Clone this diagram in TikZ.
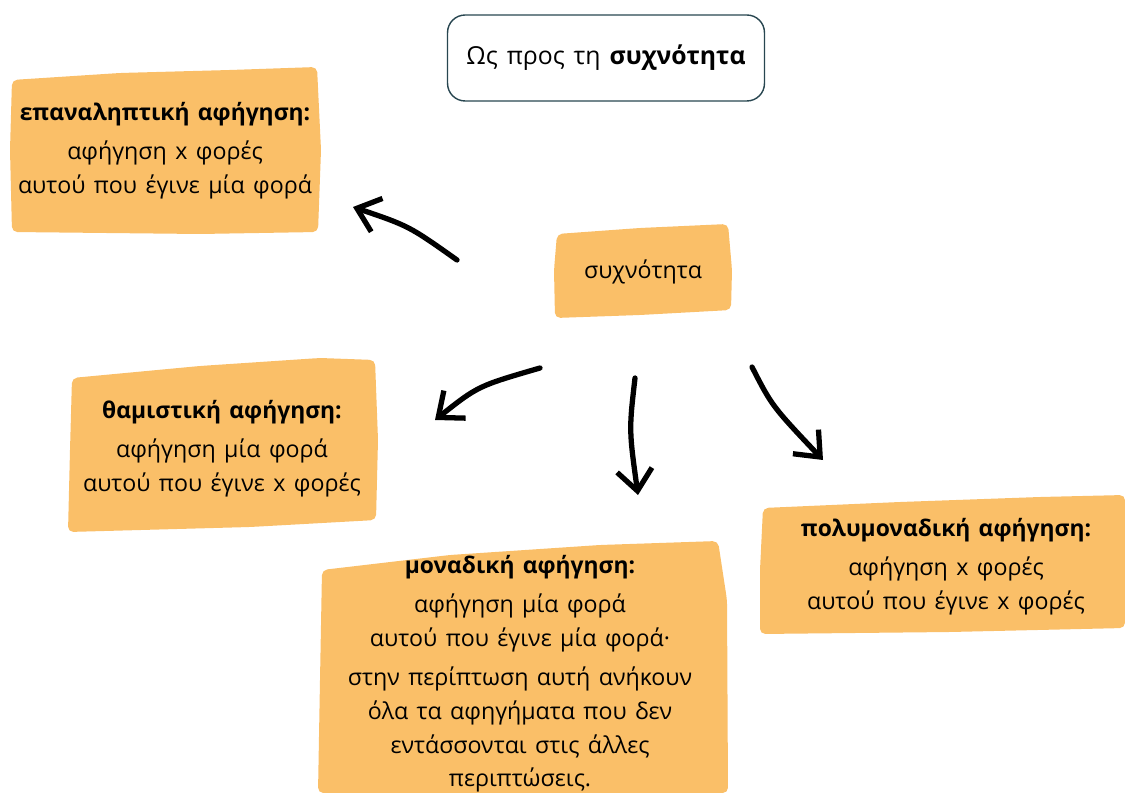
\documentclass[tikz,border=0pt]{standalone}
\usepackage{fontspec}
\setmainfont{Open Sans}[WordSpace=1.4]
\usetikzlibrary{arrows.meta}
\definecolor{paper}{RGB}{250,191,104}
\definecolor{rim}{RGB}{40,70,80}
\newcommand{\hd}[1]{{\fontsize{13}{19}\selectfont\bfseries #1}}

\begin{document}
\begin{tikzpicture}[x=0.02cm,y=-0.02cm]
				\tikzset{blob/.style={fill=paper, rounded corners=3pt},
					t/.style={align=center, font=\fontsize{13.2}{19.2}\selectfont},
					f/.style={-{Straight Barb[length=12pt,width=20pt]}, line width=3pt, line cap=round, line join=round}};
				\useasboundingbox (0,0) rectangle (1125,793);

				% hand-drawn paper backgrounds
				\fill[blob] (12,80) -- (120,73) -- (230,70) -- (317,67) -- (321,150) -- (318,232) -- (200,234) -- (12,232) -- (10,150) -- cycle;
				\fill[blob] (557,234) -- (640,228) -- (728,224) -- (732,270) -- (731,310) -- (640,315) -- (555,318) -- (554,270) -- cycle;
				\fill[blob] (72,378) -- (200,366) -- (320,358) -- (375,360) -- (378,440) -- (376,520) -- (250,527) -- (68,532) -- (70,450) -- cycle;
				\fill[blob] (322,570) -- (450,555) -- (600,545) -- (718,541) -- (727,600) -- (728,793) -- (318,793) -- (320,680) -- cycle;
				\fill[blob] (763,508) -- (900,502) -- (1040,497) -- (1125,495) -- (1125,628) -- (950,632) -- (760,634) -- (760,570) -- cycle;

				\node[draw=rim, line width=0.8pt, rounded corners=10pt, minimum width=6.34cm, minimum height=1.72cm, font=\fontsize{14.1}{18}\selectfont] (top) at (606,58) {Ως προς τη \textbf{συχνότητα}};

				\node[t] (freq) at (643,272) {συχνότητα};
				\node[t] (rep) at (165,151) {\hd{επαναληπτική αφήγηση:}\\[3pt]αφήγηση x φορές\\αυτού που έγινε μία φορά};
				\node[t] (iter) at (222,449) {\hd{θαμιστική αφήγηση:}\\[3pt]αφήγηση μία φορά\\αυτού που έγινε x φορές};
				\node[t] (sing) at (520,674) {\hd{μοναδική αφήγηση:}\\[3pt]αφήγηση μία φορά\\αυτού που έγινε μία φορά·\\[3pt]στην περίπτωση αυτή ανήκουν\\όλα τα αφηγήματα που δεν\\εντάσσονται στις άλλες\\περιπτώσεις.};
				\node[t] (multi) at (946,567) {\hd{πολυμοναδική αφήγηση:}\\[3pt]αφήγηση x φορές\\αυτού που έγινε x φορές};

				\coordinate (a1) at (457,260); \coordinate (b1) at (353,207);
				\coordinate (a2) at (540,368); \coordinate (b2) at (435,420);
				\coordinate (a3) at (635,378); \coordinate (b3) at (638,495);
				\coordinate (a4) at (752,367); \coordinate (b4) at (823,460);

				\draw[f] (a1) .. controls (409,226) .. (b1);
				\draw[f] (a2) .. controls (478,386) .. (b2);
				\draw[f] (a3) .. controls (629,430) .. (b3);
				\draw[f] (a4) .. controls (772,406) .. (b4);
			\end{tikzpicture}
\end{document}
